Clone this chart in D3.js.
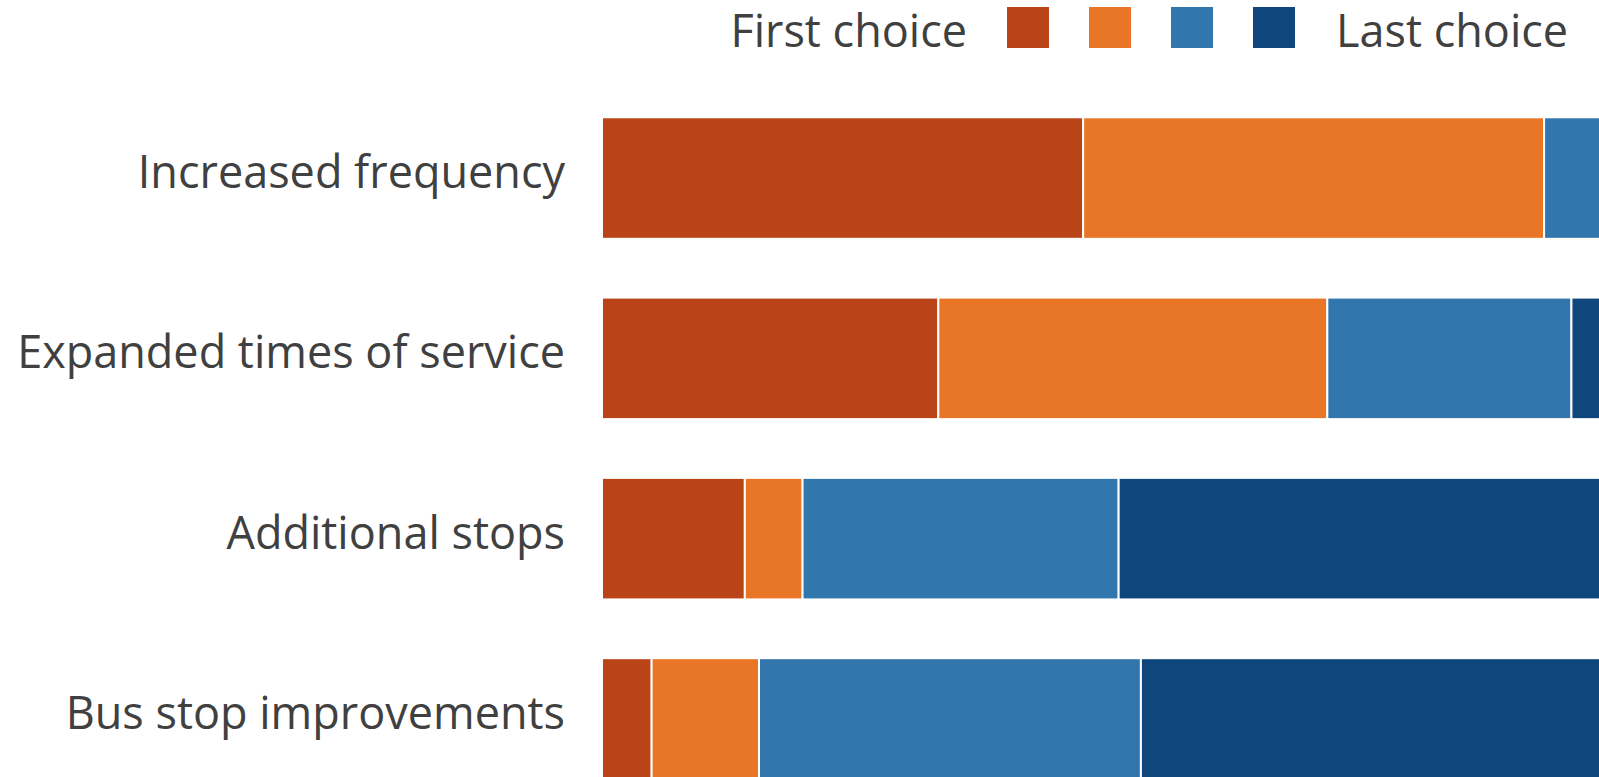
<!DOCTYPE html>
<html>
<head>
<meta charset="utf-8">
<script src="https://cdn.jsdelivr.net/npm/d3@7"></script>
<style>
  html, body { margin: 0; padding: 0; background: #ffffff; overflow: hidden; }
  svg { display: block; }
</style>
</head>
<body>
<svg id="chart" width="1599" height="777"></svg>
<script>
// ---- Data (percent of respondents per rank) ----
const categories = ["Increased frequency", "Expanded times of service", "Additional stops", "Bus stop improvements"];
const seriesNames = ["First choice", "Second choice", "Third choice", "Last choice"];
const firstChoice  = [47.5, 33.2, 14.1, 4.9];
const secondChoice = [45.5, 38.4, 5.7, 10.6];
const thirdChoice  = [7.0, 24.1, 31.2, 37.7];
const lastChoice   = [0.0, 4.3, 49.0, 46.8];
const legendLabels = ["First choice", "Last choice"];
const colors = ["#BB4318", "#E97626", "#3177AD", "#0F477C"];

const seriesValues = [firstChoice, secondChoice, thirdChoice, lastChoice];
const rows = categories.map((c, i) => {
  const r = { category: c };
  seriesNames.forEach((s, k) => r[s] = seriesValues[k][i]);
  return r;
});

const svg = d3.select("#chart");
const font = "'Open Sans', 'Noto Sans', sans-serif";
const textColor = "#404040";

const x = d3.scaleLinear().domain([0, 100]).range([602, 1615]);
const y = d3.scaleBand().domain(categories)
  .range([87.9, 809.1]).paddingInner(0.337).paddingOuter(0.1685);

const stack = d3.stack().keys(seriesNames);
const stacked = stack(rows);
const color = d3.scaleOrdinal().domain(seriesNames).range(colors);

svg.append("g").selectAll("g")
  .data(stacked)
  .join("g")
  .attr("fill", d => color(d.key))
  .selectAll("rect")
  .data(d => d)
  .join("rect")
  .attr("x", d => x(d[0]))
  .attr("y", d => y(d.data.category) - 1)
  .attr("width", d => Math.max(0, x(d[1]) - x(d[0])))
  .attr("height", y.bandwidth() + 2)
  .attr("stroke", "#ffffff")
  .attr("stroke-width", 2);

// Category labels (y axis without line/ticks)
const yAxis = d3.axisLeft(y).tickSize(0).tickPadding(0);
const ag = svg.append("g").attr("transform", "translate(565,0)").call(yAxis);
ag.select(".domain").remove();
ag.selectAll("text")
  .attr("font-family", font)
  .attr("font-size", 45)
  .attr("fill", textColor)
  .attr("dy", null)
  .attr("y", 10)
  .attr("text-anchor", "end");

// Legend
const lg = svg.append("g");
lg.append("text")
  .attr("x", 967).attr("y", 47)
  .attr("text-anchor", "end")
  .attr("font-family", font).attr("font-size", 45)
  .attr("fill", textColor)
  .text(legendLabels[0]);
const lx = d3.scaleBand().domain(seriesNames).range([1007, 1295]).paddingInner(0.488).paddingOuter(0);
lg.selectAll("rect.sw")
  .data(seriesNames)
  .join("rect")
  .attr("class", "sw")
  .attr("x", d => lx(d))
  .attr("y", 7)
  .attr("width", lx.bandwidth())
  .attr("height", 41)
  .attr("fill", d => color(d));
lg.append("text")
  .attr("x", 1336).attr("y", 47)
  .attr("text-anchor", "start")
  .attr("font-family", font).attr("font-size", 45)
  .attr("fill", textColor)
  .text(legendLabels[1]);
</script>
</body>
</html>
